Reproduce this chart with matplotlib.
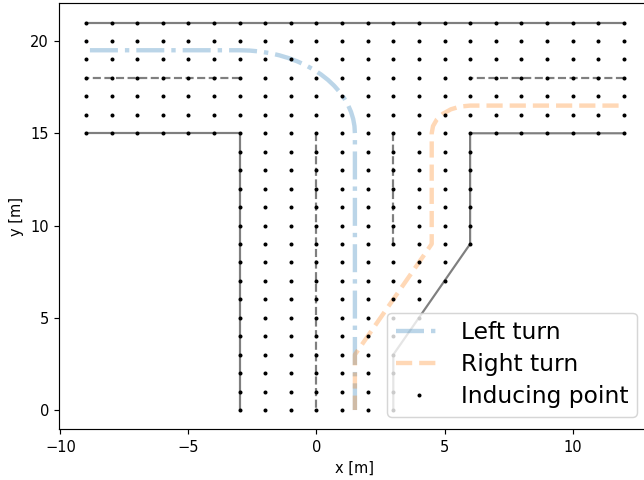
import matplotlib
matplotlib.use("Agg")
import matplotlib.pyplot as plt

# Road edges
solid_top_x = [-9, 12]
solid_top_y = [21, 21]
solid_left_x = [-9, -3, -3]
solid_left_y = [15, 15, 0]
solid_right_x = [3, 3, 6, 6, 12]
solid_right_y = [0, 3, 9, 15, 15]
dash_left_x = [-3, -9]
dash_left_y = [18, 18]
dash_right_x = [12, 6]
dash_right_y = [18, 18]
dash_center_x = [0, 0]
dash_center_y = [15, 0]
dash_mid_x = [3, 3]
dash_mid_y = [15, 9]

# Trajectories
left_x = [-8.85, -3.0, -2.608, -2.219, -1.835, -1.461, -1.098, -0.75, -0.419, -0.107,
          0.182, 0.447, 0.686, 0.897, 1.078, 1.229, 1.347, 1.432, 1.483, 1.5, 1.5]
left_y = [19.5, 19.5, 19.483, 19.432, 19.347, 19.229, 19.078, 18.897, 18.686, 18.447,
          18.182, 17.893, 17.581, 17.25, 16.902, 16.539, 16.165, 15.781, 15.392, 15.0, 0.0]
right_x = [11.8, 6.0, 5.612, 5.25, 4.939, 4.701, 4.551, 4.5, 4.5, 1.5, 1.5]
right_y = [16.5, 16.5, 16.449, 16.299, 16.061, 15.75, 15.388, 15.0, 9.0, 3.0, 0.0]

# Inducing points: each column and the lowest row it reaches
column_x = [-9, -8, -7, -6, -5, -4, -3, -2, -1, 0, 1, 2, 3, 4, 5, 6, 7, 8, 9, 10, 11, 12]
column_low = [15, 15, 15, 15, 15, 15, 0, 0, 0, 0, 0, 0, 0, 5, 7, 9, 15, 15, 15, 15, 15, 15]
top_row = 21
ind_x = []
ind_y = []
for cx, low in zip(column_x, column_low):
    for cy in range(low, top_row + 1):
        ind_x.append(cx)
        ind_y.append(cy)

W, H = 644, 480
DPI = 105
fig = plt.figure(figsize=(W / DPI, H / DPI), dpi=DPI)
ax = fig.add_axes([59.2 / W, (H - 429.4) / H, 591.4 / W, 426.2 / H])

edge = dict(color="k", alpha=0.5)
ax.plot(solid_top_x, solid_top_y, "-", **edge)
ax.plot(solid_left_x, solid_left_y, "-", **edge)
ax.plot(solid_right_x, solid_right_y, "-", **edge)
ax.plot(dash_left_x, dash_left_y, "--", **edge)
ax.plot(dash_right_x, dash_right_y, "--", **edge)
ax.plot(dash_center_x, dash_center_y, "--", **edge)
ax.plot(dash_mid_x, dash_mid_y, "--", **edge)

ax.plot(left_x, left_y, "-.", color="C0", lw=3, alpha=0.3, label="Left turn")
ax.plot(right_x, right_y, "--", color="C1", lw=3, alpha=0.3, label="Right turn")
ax.plot(ind_x, ind_y, "k.", ms=3.5, label="Inducing point", linestyle="none")

ax.set_xlim(-10.05, 13.05)
ax.set_ylim(-1.05, 22.05)
ax.set_xticks([-10, -5, 0, 5, 10])
ax.set_yticks([0, 5, 10, 15, 20])
ax.set_xlabel("x [m]")
ax.set_ylabel("y [m]")
ax.legend(loc="lower right", fontsize=16, labelspacing=0.39, borderpad=0.36,
          bbox_to_anchor=(0.9966, 0.0023))

fig.savefig("out.png", dpi=DPI)
